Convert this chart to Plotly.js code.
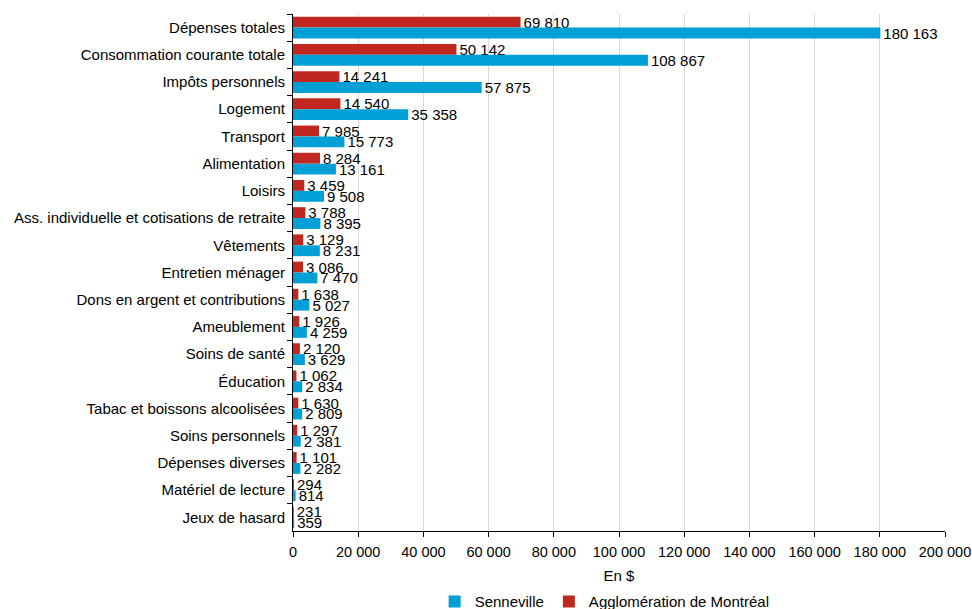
<!DOCTYPE html>
<html><head><meta charset="utf-8">
<script src="https://cdn.plot.ly/plotly-3.0.1.min.js"></script>
<style>body{margin:0;background:#fff}#c{width:972px;height:609px}</style>
</head><body><div id="c"></div>
<script>
const categories = ["Dépenses totales","Consommation courante totale","Impôts personnels","Logement","Transport","Alimentation","Loisirs","Ass. individuelle et cotisations de retraite","Vêtements","Entretien ménager","Dons en argent et contributions","Ameublement","Soins de santé","Éducation","Tabac et boissons alcoolisées","Soins personnels","Dépenses diverses","Matériel de lecture","Jeux de hasard"];
const senneville = [180163,108867,57875,35358,15773,13161,9508,8395,8231,7470,5027,4259,3629,2834,2809,2381,2282,814,359];
const montreal = [69810,50142,14241,14540,7985,8284,3459,3788,3129,3086,1638,1926,2120,1062,1630,1297,1101,294,231];
const xTickVals = [0,20000,40000,60000,80000,100000,120000,140000,160000,180000,200000];

const common = {type:'bar', orientation:'h', y:categories, textposition:'outside', texttemplate:'%{x:,}', cliponaxis:false, constraintext:'none', textfont:{size:15,color:'#000'}};
const traces = [
  Object.assign({}, common, {name:'Agglomération de Montréal', x:montreal, marker:{color:'#C0281F'}}),
  Object.assign({}, common, {name:'Senneville', x:senneville, marker:{color:'#009FD6'}})
];
const layout = {
  width:972, height:609,
  margin:{l:293, r:27, t:14, b:78, autoexpand:false},
  separators:', ',
  font:{family:'Liberation Sans, Arial, sans-serif', size:15, color:'#000'},
  barmode:'group', bargap:0.2, bargroupgap:0,
  showlegend:true,
  legend:{orientation:'h', x:0.478, xanchor:'center', yref:'container', y:0.012, yanchor:'middle', traceorder:'reversed', font:{size:15}, itemwidth:30, tracegroupgap:0},
  xaxis:{automargin:true, range:[0,200000], tickvals:xTickVals, tickformat:',', showgrid:true, gridcolor:'#d9d9d9', showline:true, linecolor:'#000', ticks:'outside', ticklen:5, tickcolor:'#000', zeroline:false, ticklabelstandoff:3, title:{text:'En $', standoff:11, font:{size:15}}, tickfont:{size:14.5}},
  yaxis:{automargin:false, autorange:'reversed', type:'category', tickson:'boundaries', ticks:'outside', ticklen:5, tickcolor:'#000', showline:true, linecolor:'#000', showgrid:false, tickfont:{size:15}, ticklabelstandoff:4},
  plot_bgcolor:'#fff', paper_bgcolor:'#fff'
};
Plotly.newPlot('c', traces, layout, {displayModeBar:false, staticPlot:true});
</script></body></html>
